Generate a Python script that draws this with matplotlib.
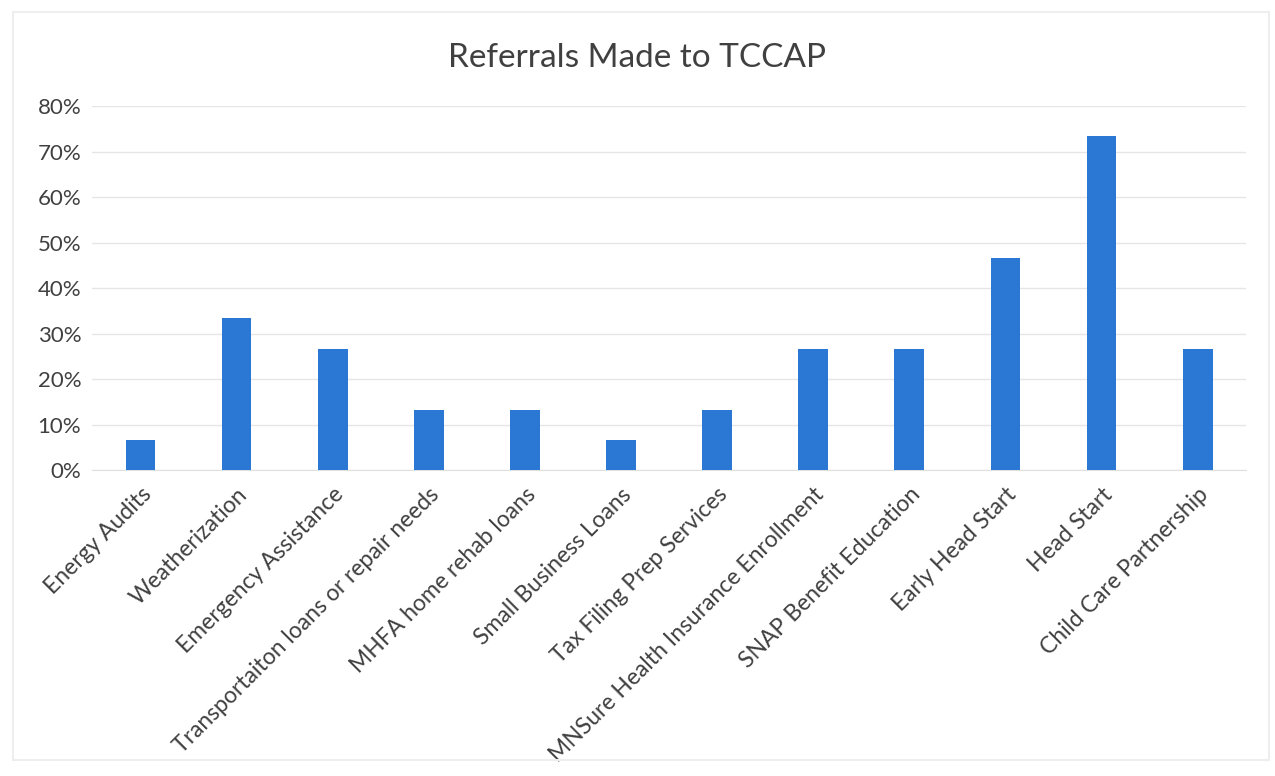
import numpy as np
import matplotlib.pyplot as plt
from matplotlib.ticker import PercentFormatter
from matplotlib.patches import Rectangle

categories = ["Energy Audits", "Weatherization", "Emergency Assistance",
              "Transportaiton loans or repair needs", "MHFA home rehab loans",
              "Small Business Loans", "Tax Filing Prep Services",
              "MNSure Health Insurance Enrollment", "SNAP Benefit Education",
              "Early Head Start", "Head Start", "Child Care Partnership"]
values = [6.7, 33.3, 26.7, 13.3, 13.3, 6.7, 13.3, 26.7, 26.7, 46.7, 73.3, 26.7]

plt.rcParams['font.family'] = ['Lato', 'DejaVu Sans']

fig = plt.figure(figsize=(12.75, 7.76), dpi=100)
ax = fig.add_axes([0.0725, 0.3943, 0.9045, 0.4691])

x = np.arange(len(categories))
ax.bar(x, values, width=0.31, color='#2b78d4', zorder=3)

ax.set_ylim(0, 80)
ax.set_xlim(-0.5, len(categories) - 0.5)
ax.set_yticks(np.arange(0, 81, 10))
ax.yaxis.set_major_formatter(PercentFormatter(decimals=0))
ax.grid(axis='y', color='#e6e6e6', linewidth=1, zorder=0)
for s in ['top', 'right', 'left']:
    ax.spines[s].set_visible(False)
ax.spines['bottom'].set_color('#e0e0e0')
ax.tick_params(axis='both', length=0, labelsize=16, colors='#404040', pad=8)
ax.tick_params(axis='x', labelsize=16.5, pad=10)
ax.set_xticks(x)
ax.set_xticklabels(categories, rotation=45, ha='right', rotation_mode='anchor')

fig.suptitle("Referrals Made to TCCAP", y=0.945, fontsize=24, color='#404040')

# faint outer border of the chart area
fig.patches.append(Rectangle((0.01, 0.02), 0.985, 0.965, transform=fig.transFigure,
                             fill=False, edgecolor='#eeeeee', linewidth=1.5))

fig.savefig("out.png", dpi=100)
